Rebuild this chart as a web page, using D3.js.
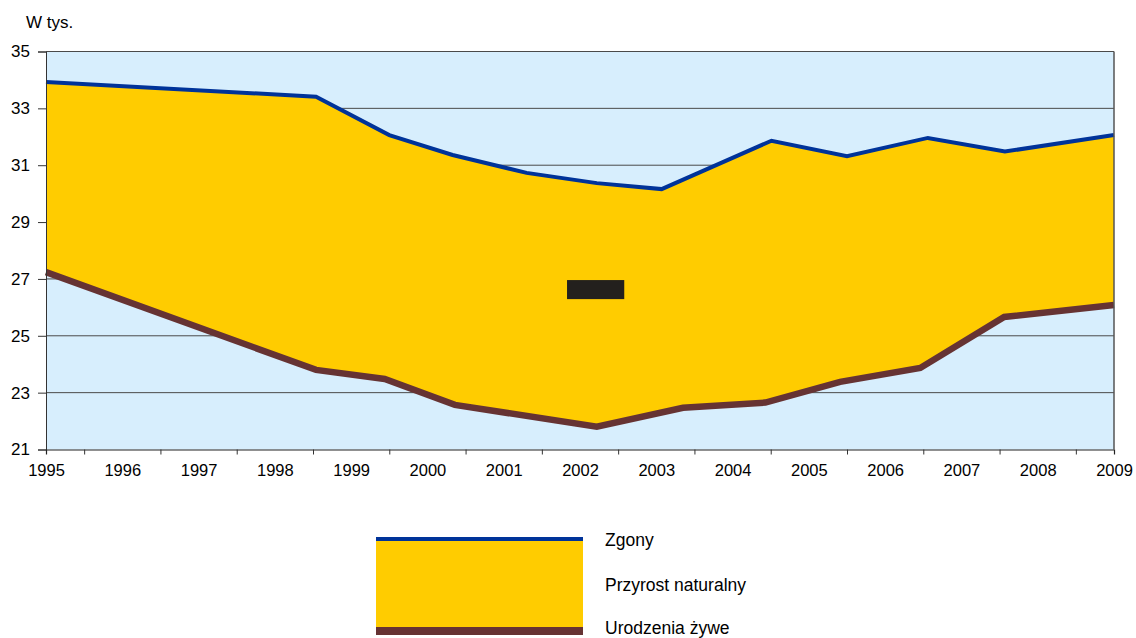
<!DOCTYPE html>
<html>
<head>
<meta charset="utf-8">
<script src="https://cdn.jsdelivr.net/npm/d3@7"></script>
<style>
  html, body { margin: 0; padding: 0; background: #ffffff; }
  svg { display: block; font-family: "Liberation Sans", Arial, sans-serif; }
</style>
</head>
<body>
<svg id="chart" width="1136" height="638"></svg>
<script>
// ---- data ----
const yearLabels = [1995,1996,1997,1998,1999,2000,2001,2002,2003,2004,2005,2006,2007,2008,2009];
const yTicks = [21,23,25,27,29,31,33,35];

// Zgony (upper line) – positions along the year axis and values in thousands
const deathYears  = [1995, 1998.54, 1999.50, 2000.33, 2001.30, 2002.22, 2003.07, 2004.51, 2005.50, 2006.56, 2007.57, 2009];
const deathValues = [33.93, 33.41, 32.06, 31.36, 30.73, 30.37, 30.16, 31.86, 31.32, 31.96, 31.48, 32.06];

// Urodzenia żywe (lower line)
const birthYears  = [1995, 1998.54, 1999.44, 2000.36, 2002.22, 2003.35, 2004.43, 2005.41, 2006.46, 2007.56, 2009];
const birthValues = [27.24, 23.80, 23.48, 22.57, 21.80, 22.47, 22.65, 23.38, 23.87, 25.66, 26.08];

const legendLabels = ["Zgony", "Przyrost naturalny", "Urodzenia żywe"];
const unitLabel = "W tys.";
// dark box in the middle of the area (as in the source)
const maskBox = {x0: 2001.83, x1: 2002.58, y0: 26.29, y1: 26.96};

// ---- drawing ----
const svg = d3.select("#chart");
const colors = { bg: "#d7eefd", area: "#ffcc00", death: "#003399", birth: "#663333", grid: "#4a4a4a" };

const x = d3.scaleLinear().domain([1995, 2009]).range([46, 1114]);
const y = d3.scaleLinear().domain([21, 35]).range([449.5, 51.5]);

// plot background
svg.append("rect")
  .attr("x", x(1995)).attr("y", y(35))
  .attr("width", x(2009) - x(1995)).attr("height", y(21) - y(35))
  .attr("fill", colors.bg);

// gridlines
svg.append("g").selectAll("line")
  .data(yTicks.filter(d => d > 21))
  .join("line")
  .attr("x1", x(1995)).attr("x2", x(2009))
  .attr("y1", d => y(d)).attr("y2", d => y(d))
  .attr("stroke", colors.grid).attr("stroke-width", 1);

// filled area between the two lines
const deaths = deathYears.map((d, i) => ({yr: d, v: deathValues[i]}));
const births = birthYears.map((d, i) => ({yr: d, v: birthValues[i]}));
const lineGen = d3.line().x(d => x(d.yr)).y(d => y(d.v));

svg.append("path")
  .attr("d", lineGen(deaths.concat(births.slice().reverse())) + "Z")
  .attr("fill", colors.area);

// lines
svg.append("path")
  .attr("d", lineGen(births))
  .attr("fill", "none").attr("stroke", colors.birth)
  .attr("stroke-width", 6.5).attr("stroke-linejoin", "miter");

svg.append("path")
  .attr("d", lineGen(deaths))
  .attr("fill", "none").attr("stroke", colors.death)
  .attr("stroke-width", 4).attr("stroke-linejoin", "miter");

// dark box
svg.append("rect")
  .attr("x", x(maskBox.x0)).attr("y", y(maskBox.y1))
  .attr("width", x(maskBox.x1) - x(maskBox.x0))
  .attr("height", y(maskBox.y0) - y(maskBox.y1))
  .attr("fill", "#23201d");

// right border
svg.append("line")
  .attr("x1", x(2009)).attr("x2", x(2009))
  .attr("y1", y(35)).attr("y2", y(21))
  .attr("stroke", "#555").attr("stroke-width", 1.5);

// y axis
const yAxis = svg.append("g")
  .attr("transform", `translate(${x(1995)},0)`)
  .call(d3.axisLeft(y).tickValues(yTicks).tickSize(8).tickPadding(8).tickFormat(d3.format("d")));
yAxis.select(".domain").attr("stroke", "#333").attr("stroke-width", 1);
yAxis.selectAll(".tick line").attr("stroke", "#333");
yAxis.selectAll("text").attr("font-size", 17).attr("fill", "#000")
  .attr("font-family", "Liberation Sans, Arial, sans-serif");

// x axis: tick marks between labels
const midTicks = yearLabels.slice(0, -1).map(d => d + 0.5);
const xTicksG = svg.append("g")
  .attr("transform", `translate(0,${y(21)})`)
  .call(d3.axisBottom(x).tickValues(midTicks).tickSize(5).tickFormat(""));
xTicksG.select(".domain").attr("stroke", "#222").attr("stroke-width", 1.2);
xTicksG.selectAll(".tick line").attr("stroke", "#333");

// x axis labels
const xLabelsG = svg.append("g")
  .attr("transform", `translate(0,${y(21)})`)
  .call(d3.axisBottom(x).tickValues(yearLabels).tickSize(0).tickPadding(15).tickFormat(d3.format("d")));
xLabelsG.select(".domain").remove();
xLabelsG.selectAll("text").attr("font-size", 16.5).attr("fill", "#000")
  .attr("font-family", "Liberation Sans, Arial, sans-serif");

// unit label
svg.append("text")
  .attr("x", 26).attr("y", 28)
  .attr("font-size", 17).attr("fill", "#000")
  .text(unitLabel);

// legend
const lg = svg.append("g");
const lx0 = 376, lx1 = 583;
lg.append("rect").attr("x", lx0).attr("y", 537).attr("width", lx1 - lx0).attr("height", 4).attr("fill", colors.death);
lg.append("rect").attr("x", lx0).attr("y", 541).attr("width", lx1 - lx0).attr("height", 86).attr("fill", colors.area);
lg.append("rect").attr("x", lx0).attr("y", 627).attr("width", lx1 - lx0).attr("height", 8).attr("fill", colors.birth);
const legendY = [546, 591, 633.5];
lg.selectAll("text.leg")
  .data(legendLabels)
  .join("text")
  .attr("class", "leg")
  .attr("x", 605).attr("y", (d, i) => legendY[i])
  .attr("font-size", 17.5).attr("fill", "#000")
  .text(d => d);
</script>
</body>
</html>
